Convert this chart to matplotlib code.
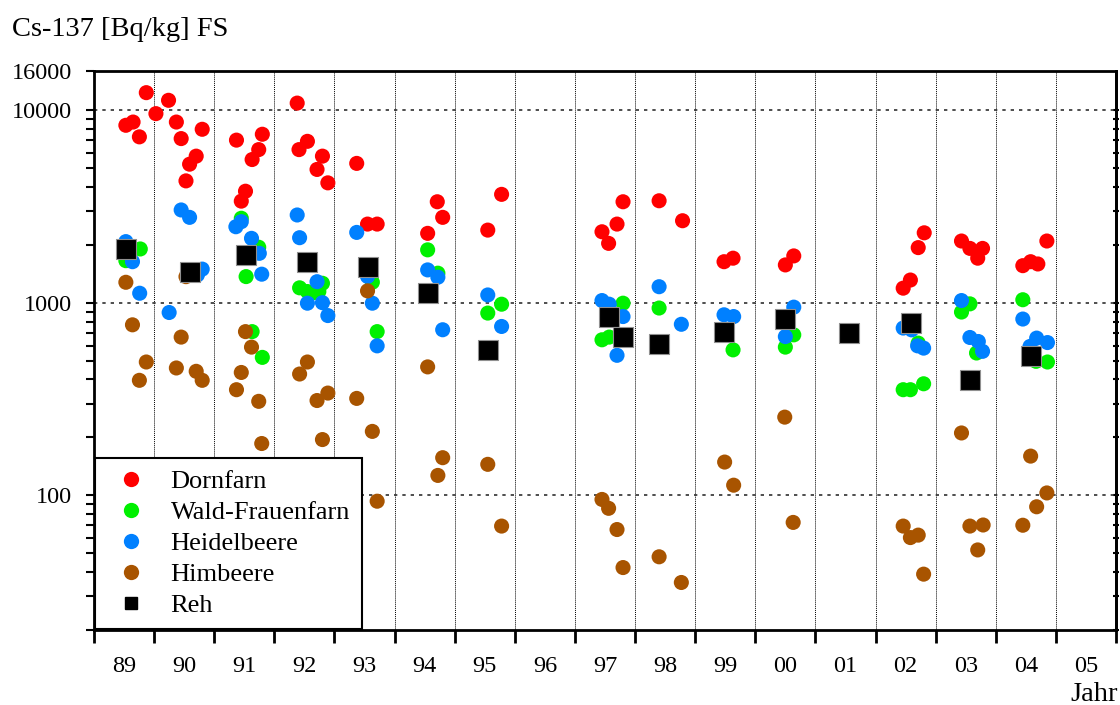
import numpy as np
import matplotlib.pyplot as plt
from matplotlib.lines import Line2D
from matplotlib.ticker import FixedLocator, NullFormatter, LogLocator

plt.rcParams['font.family'] = ['Liberation Serif', 'DejaVu Serif']

# ----------------------------
# Data (sampling time as decimal year, Cs-137 in Bq/kg FS)
# ----------------------------

year_labels = ["89", "90", "91", "92", "93", "94", "95", "96", "97",
               "98", "99", "00", "01", "02", "03", "04", "05"]

dorn_x = [1989.53, 1989.65, 1989.755, 1989.87,
          1990.03, 1990.24, 1990.37, 1990.45, 1990.80, 1990.70, 1990.59, 1990.53,
          1991.37, 1991.80, 1991.74, 1991.63, 1991.52, 1991.45,
          1992.38, 1992.41, 1992.55, 1992.80, 1992.71, 1992.89,
          1993.37, 1993.55, 1993.71,
          1994.71, 1994.80, 1994.55,
          1995.78, 1995.55,
          1997.80, 1997.70, 1997.45, 1997.56,
          1998.40, 1998.79,
          1999.48, 1999.63,
          2000.50, 2000.64,
          2002.81, 2002.71, 2002.58, 2002.46,
          2003.43, 2003.57, 2003.78, 2003.70,
          2004.85, 2004.45, 2004.58, 2004.70]
dorn_y = [8360, 8690, 7280, 12350,
          9610, 11270, 8690, 7130, 7970, 5780, 5250, 4300,
          7000, 7510, 6250, 5550, 3800, 3375,
          10900, 6250, 6900, 5780, 4930, 4200,
          5300, 2565, 2565,
          3350, 2780, 2296,
          3660, 2387,
          3350, 2565, 2340, 2037,
          3390, 2670,
          1636, 1706,
          1574, 1753,
          2311, 1936, 1314, 1192,
          2095, 1918, 1918, 1706,
          2095, 1560, 1636, 1592]

wald_x = [1989.77, 1989.53,
          1991.45, 1991.74, 1991.53, 1991.63, 1991.80,
          1992.42, 1992.80, 1992.55, 1992.655, 1992.74,
          1993.63, 1993.71,
          1994.55, 1994.72,
          1995.78, 1995.55,
          1997.80, 1997.45, 1997.57,
          1998.40,
          1999.63,
          2000.64, 2000.50,
          2002.71, 2002.46, 2002.58, 2002.80,
          2003.57, 2003.43, 2003.68,
          2004.45, 2004.67, 2004.86]
wald_y = [1905, 1656,
          2750, 1945, 1369, 709, 521,
          1197, 1264, 1145, 1130, 1145,
          1280, 709,
          1885, 1426,
          984, 885,
          996, 643, 664,
          940,
          570,
          682, 589,
          618, 354, 354, 380,
          988, 896, 549,
          1038, 497, 493]

heid_x = [1989.53, 1989.64, 1989.76,
          1990.45, 1990.59, 1990.25, 1990.72, 1990.80,
          1991.36, 1991.45, 1991.62, 1991.75, 1991.79,
          1992.38, 1992.42, 1992.71, 1992.55, 1992.80, 1992.89,
          1993.37, 1993.55, 1993.63, 1993.71,
          1994.55, 1994.72, 1994.80,
          1995.55, 1995.78,
          1997.45, 1997.57, 1997.80, 1997.70,
          1998.40, 1998.77,
          1999.48, 1999.64,
          2000.64, 2000.50,
          2002.46, 2002.60, 2002.70, 2002.80,
          2003.43, 2003.57, 2003.71, 2003.78,
          2004.45, 2004.68, 2004.86, 2004.57]
heid_y = [2080, 1636, 1122,
          3037, 2780, 891, 1397, 1497,
          2485, 2640, 2163, 1808, 1409,
          2860, 2180, 1288, 996, 1002, 859,
          2322, 1372, 996, 598,
          1483, 1359, 725,
          1099, 754,
          1028, 984, 849, 534,
          1213, 774,
          867, 849,
          950, 668,
          740, 724, 598, 582,
          1028, 661, 630, 560,
          824, 656, 622, 594]

himb_x = [1989.53, 1989.64, 1989.87, 1989.755,
          1990.53, 1990.45, 1990.37, 1990.70, 1990.80,
          1991.52, 1991.62, 1991.45, 1991.37, 1991.74, 1991.79,
          1992.55, 1992.42, 1992.71, 1992.89, 1992.80,
          1993.55, 1993.37, 1993.63, 1993.71,
          1994.55, 1994.80, 1994.72,
          1995.55, 1995.78,
          1997.45, 1997.56, 1997.70, 1997.80,
          1998.40, 1998.77,
          1999.49, 1999.64,
          2000.49, 2000.63,
          2002.46, 2002.58, 2002.71, 2002.80,
          2003.43, 2003.57, 2003.79, 2003.70,
          2004.58, 2004.85, 2004.68, 2004.45]
himb_y = [1279, 769, 493, 396,
          1368, 664, 459, 441, 396,
          709, 589, 435, 354, 308, 186,
          493, 427, 311, 340, 195,
          1154, 319, 215, 93.3,
          465, 157, 127,
          145, 69.3,
          95.3, 85.7, 66.5, 42.2,
          48, 35.3,
          149, 113,
          255, 72.4,
          69.3, 60.4, 62.2, 39,
          211, 69.3, 70.2, 52.1,
          160, 103, 87.3, 70]

reh_x = [1989.53, 1990.60, 1991.53, 1992.55, 1993.55, 1994.55, 1995.55,
         1997.56, 1997.80, 1998.40, 1999.48, 2000.50, 2001.555, 2002.59,
         2003.57, 2004.58]
reh_y = [1897, 1452, 1774, 1625, 1541, 1122, 570,
         849, 664, 611, 709, 827, 697, 785,
         399, 531]

SERIES = [
    ("Dornfarn",        dorn_x, dorn_y, "#ff0000"),
    ("Wald-Frauenfarn", wald_x, wald_y, "#00f000"),
    ("Heidelbeere",     heid_x, heid_y, "#0080ff"),
    ("Himbeere",        himb_x, himb_y, "#a85400"),
]

# ----------------------------
# Figure
# ----------------------------

W, H = 1120, 705
fig = plt.figure(figsize=(W / 100, H / 100), dpi=100)
ax = fig.add_axes([94 / W, 1 - 630 / H, 1022 / W, (630 - 71) / H])

for name, xs, ys, col in SERIES:
    ax.scatter(xs, ys, s=118, color=col, edgecolors="none", zorder=3)
ax.scatter(reh_x, reh_y, s=190, marker="s", color="black",
           edgecolors="#909090", linewidths=0.8, zorder=4)

ax.set_yscale("log")
ax.set_ylim(20, 16000)
ax.set_xlim(1989, 2006)

# y axis
ax.yaxis.set_major_locator(FixedLocator([100, 1000, 10000, 16000]))
ax.set_yticklabels(["100", "1000", "10000", "16000"])
ax.yaxis.set_minor_locator(LogLocator(base=10, subs=np.arange(2, 10)))
ax.yaxis.set_minor_formatter(NullFormatter())
ax.tick_params(axis="y", which="both", direction="out", length=6, width=1.5,
               labelsize=17.5, pad=10)

# x axis: ticks at year boundaries, labels at year centres
bounds = np.arange(1989, 2007)
ax.xaxis.set_major_locator(FixedLocator(bounds))
ax.xaxis.set_major_formatter(NullFormatter())
ax.xaxis.set_minor_locator(FixedLocator(bounds[:-1] + 0.5))
ax.set_xticklabels(year_labels, minor=True)
ax.tick_params(axis="x", which="major", direction="out", length=9, width=2)
ax.tick_params(axis="x", which="minor", length=0, labelsize=17.5, pad=19)

# grid
for b in bounds[1:-1]:
    ax.axvline(b, color="black", lw=0.7, ls=(0, (1, 1)), zorder=1)
for v in [100, 1000, 10000]:
    ax.axhline(v, color="#303030", lw=1.2, ls=(0, (2, 3)), zorder=1)

for sp in ax.spines.values():
    sp.set_linewidth(2)

# right spine ticks, small, no labels
sec = ax.secondary_yaxis("right")
sec.yaxis.set_major_locator(FixedLocator([100, 1000, 10000]))
sec.yaxis.set_minor_locator(LogLocator(base=10, subs=np.arange(2, 10)))
sec.yaxis.set_major_formatter(NullFormatter())
sec.yaxis.set_minor_formatter(NullFormatter())
sec.tick_params(which="both", direction="inout", length=4, width=1.5)
sec.spines["right"].set_linewidth(2)

# legend
handles = [Line2D([], [], ls="none", marker="o", ms=11, color=c, mec="none")
           for _, _, _, c in SERIES]
handles.append(Line2D([], [], ls="none", marker="s", ms=9, color="black"))
labels = [s[0] for s in SERIES] + ["Reh"]
leg = ax.legend(handles, labels, loc="lower left", bbox_to_anchor=(0, 0),
                borderaxespad=0.05, fontsize=19, frameon=True, fancybox=False,
                framealpha=1, edgecolor="black", handlelength=1.77,
                handletextpad=0.63, labelspacing=0.28, borderpad=0.45)
leg.get_frame().set_linewidth(1.5)
leg.set_zorder(10)

fig.text(12 / W, 1 - 36 / H, "Cs-137 [Bq/kg] FS", fontsize=20.5, va="baseline")
fig.text(1118 / W, 1 - 701 / H, "Jahr", fontsize=20.5, ha="right", va="baseline")

fig.savefig("out.png", dpi=100)
